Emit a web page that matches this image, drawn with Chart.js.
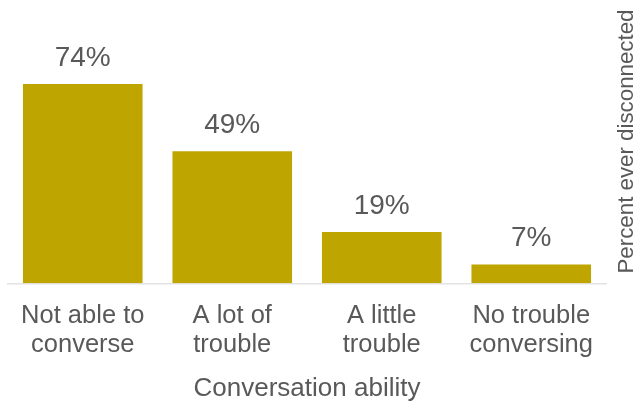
<!DOCTYPE html>
<html>
<head>
<meta charset="utf-8">
<script src="https://cdn.jsdelivr.net/npm/chart.js@4/dist/chart.umd.min.js"></script>
<style>
  html, body { margin: 0; padding: 0; background: #ffffff; }
  #wrap { width: 640px; height: 404px; position: relative; }
</style>
</head>
<body>
<div id="wrap"><canvas id="c" width="640" height="404"></canvas></div>
<script>
const categories = [
  ["Not able to", "converse"],
  ["A lot of", "trouble"],
  ["A little", "trouble"],
  ["No trouble", "conversing"]
];
const percentDisconnected = [74, 49, 19, 7];
const xTitle = "Conversation ability";
const yTitle = "Percent ever disconnected";

const textColor = "#595959";
const barColor = "#bfa500";
const fontFamily = "'Liberation Sans', Arial, Helvetica, sans-serif";

const valueLabels = {
  id: "valueLabels",
  afterDatasetsDraw(chart) {
    const ctx = chart.ctx;
    const meta = chart.getDatasetMeta(0);
    ctx.save();
    ctx.fillStyle = textColor;
    ctx.font = "28px " + fontFamily;
    ctx.textAlign = "center";
    ctx.textBaseline = "alphabetic";
    meta.data.forEach((bar, i) => {
      ctx.fillText(percentDisconnected[i] + "%", bar.x, bar.y - 18);
    });
    ctx.restore();
  }
};

const rightTitle = {
  id: "rightTitle",
  afterDraw(chart) {
    const ctx = chart.ctx;
    ctx.save();
    ctx.fillStyle = textColor;
    ctx.font = "22.3px " + fontFamily;
    ctx.textAlign = "center";
    ctx.textBaseline = "middle";
    ctx.translate(627, 141.5);
    ctx.rotate(-Math.PI / 2);
    ctx.fillText(yTitle, 0, 0);
    ctx.restore();
  }
};

new Chart(document.getElementById("c"), {
  type: "bar",
  data: {
    labels: categories,
    datasets: [{
      data: percentDisconnected,
      backgroundColor: barColor,
      borderWidth: 0,
      categoryPercentage: 1.0,
      barPercentage: 0.8
    }]
  },
  options: {
    responsive: false,
    animation: false,
    devicePixelRatio: 1,
    layout: { padding: { left: 8, right: 34, top: 14, bottom: 0 } },
    plugins: {
      legend: { display: false },
      tooltip: { enabled: false }
    },
    scales: {
      x: {
        grid: { display: false, drawTicks: false, tickLength: 0 },
        border: { display: true, color: "#e3e3e3", width: 1.5 },
        ticks: {
          color: textColor,
          font: { family: fontFamily, size: 25.5, lineHeight: 1.14 },
          padding: 18,
          maxRotation: 0,
          autoSkip: false
        },
        title: {
          display: true,
          text: xTitle,
          color: textColor,
          font: { family: fontFamily, size: 26, lineHeight: 1.0 },
          padding: { top: -2, bottom: 2.6 }
        }
      },
      y: {
        display: false,
        min: 0,
        max: 100
      }
    }
  },
  plugins: [valueLabels, rightTitle]
});
</script>
</body>
</html>
